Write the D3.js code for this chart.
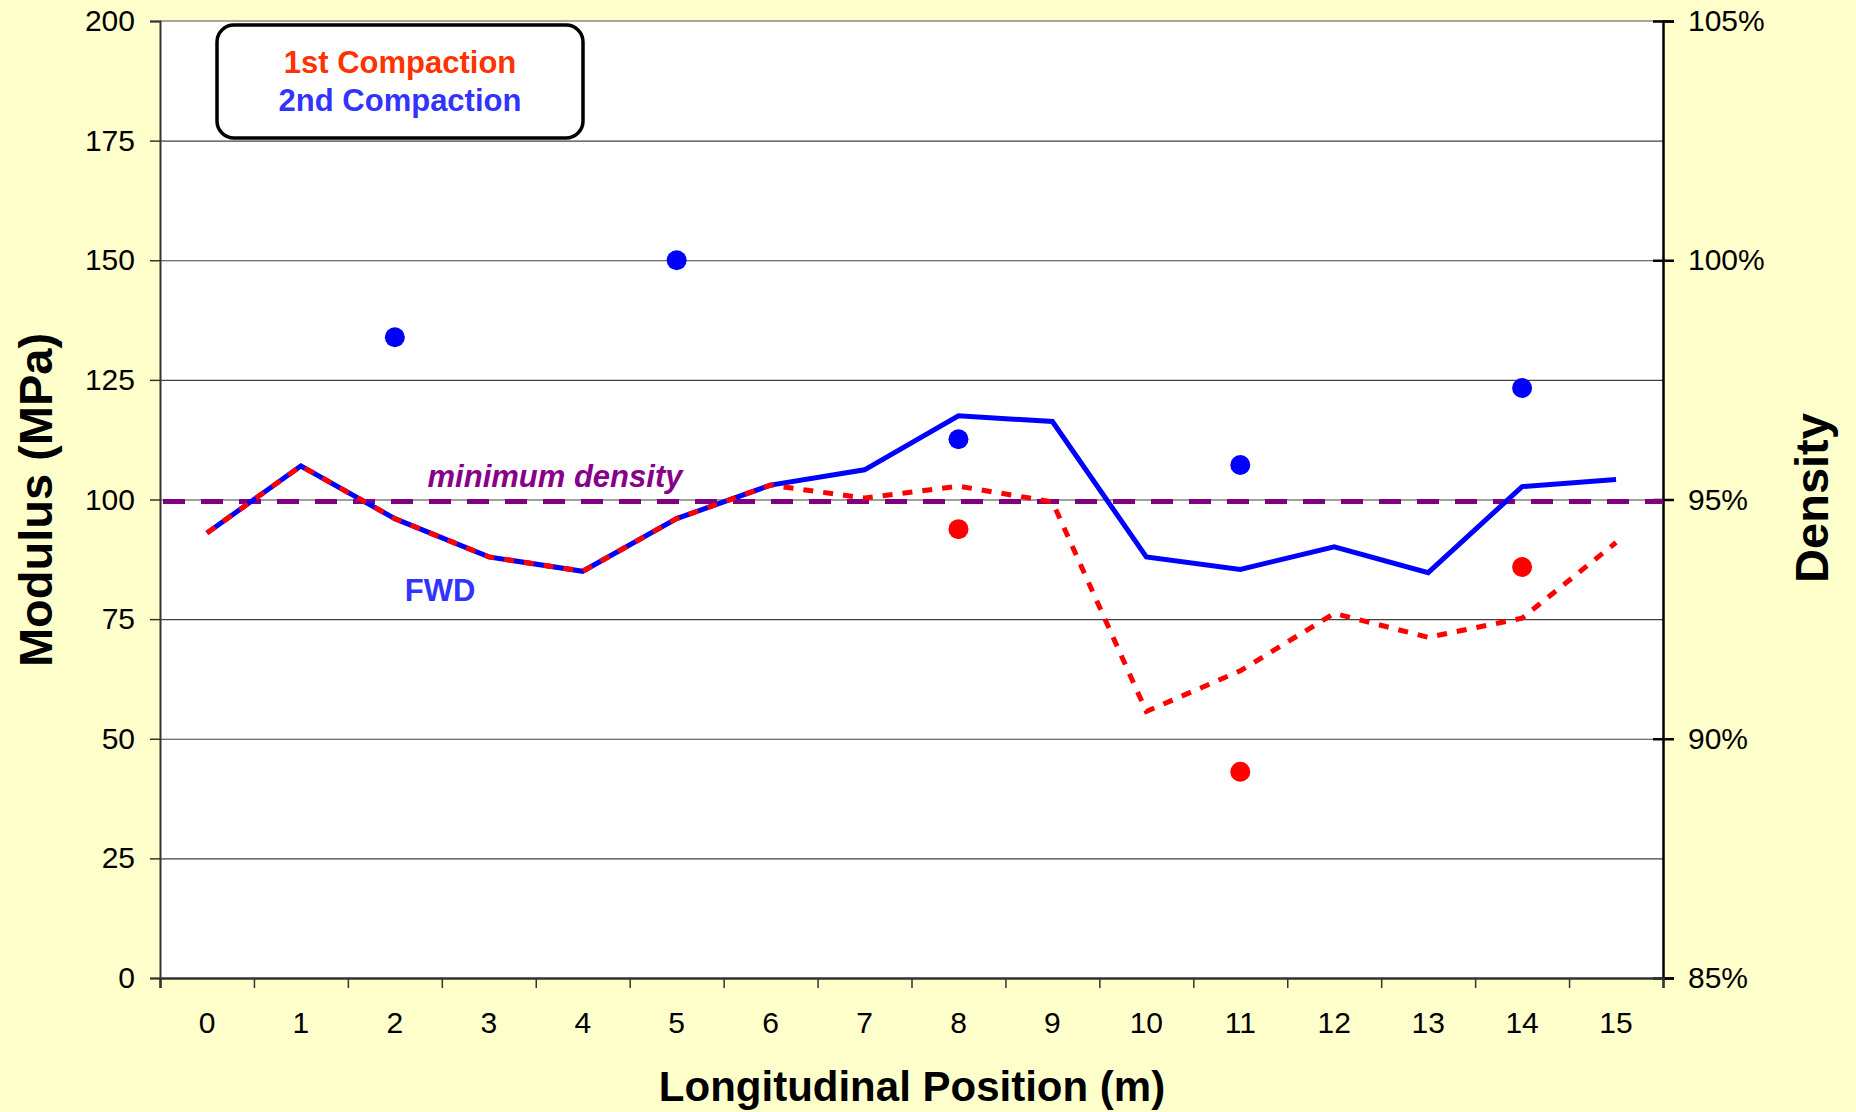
<!DOCTYPE html>
<html>
<head>
<meta charset="utf-8">
<script src="https://cdn.jsdelivr.net/npm/d3@7"></script>
<style>
  body { margin: 0; background: #FFFFCC; }
  svg { display: block; font-family: "Liberation Sans", Arial, sans-serif; }
  .axis text { font-size: 30px; fill: #000; }
</style>
</head>
<body>
<script>
// data
var positions = [0, 1, 2, 3, 4, 5, 6, 7, 8, 9, 10, 11, 12, 13, 14, 15];
var fwd1st = [93, 107, 96, 88, 85, 96, 103, 100.3, 102.8, 99.5, 55.7, 64.2, 76.2, 71.2, 75.2, 91];
var fwd2nd = [93, 107, 96, 88, 85, 96, 103, 106.2, 117.5, 116.3, 88, 85.4, 90.1, 84.7, 102.7, 104.2];
var density1stPos = [8, 11, 14];
var density1st = [0.9438, 0.8931, 0.9359];
var density2ndPos = [2, 5, 8, 11, 14];
var density2nd = [0.9839, 1.00, 0.9626, 0.9572, 0.9733];
var minDensity = 0.95;
var modulusTicks = [0, 25, 50, 75, 100, 125, 150, 175, 200];
var densityTicks = [0.85, 0.90, 0.95, 1.00, 1.05];

var margin = {top: 21, bottom: 134, left: 160, right: 193};
var width = 1856 - margin.left - margin.right;
var height = 1112 - margin.top - margin.bottom;

var svg = d3.select("body")
            .append("svg")
            .attr("width", 1856)
            .attr("height", 1112);

var g = svg.append("g")
           .attr("transform", "translate(" + margin.left + "," + margin.top + ")");

//Scales
var xScale = d3.scaleBand()
               .domain(positions)
               .range([0, width]);

var xEdge = d3.scaleLinear()
              .domain([0, positions.length])
              .range([0, width]);

var yScale = d3.scaleLinear()
               .domain([0, 200])
               .range([height, 0]);

var yRight = d3.scaleLinear()
               .domain([0.85, 1.05])
               .range([height, 0]);

function cx(d) { return xScale(d) + xScale.bandwidth() / 2; }

//Plot area
g.append("rect")
  .attr("width", width)
  .attr("height", height)
  .attr("fill", "#fff");

//Grid lines
g.append("g")
  .attr("class", "grid")
  .call(d3.axisLeft(yScale).tickValues(modulusTicks.slice(1, -1)).tickSize(-width).tickFormat(""))
  .call(function(s) {
    s.select(".domain").remove();
    s.selectAll("line").attr("stroke", "#404040").attr("stroke-width", 1.2);
  });

g.append("line")
  .attr("x1", 0).attr("x2", width)
  .attr("y1", yScale(200)).attr("y2", yScale(200))
  .attr("stroke", "#888").attr("stroke-width", 1.5);

//Left axis
g.append("g")
  .attr("class", "axis")
  .call(d3.axisLeft(yScale).tickValues(modulusTicks).tickSize(10).tickPadding(15))
  .call(function(s) {
    s.select(".domain").attr("stroke", "#333").attr("stroke-width", 2);
    s.selectAll(".tick line").attr("stroke", "#333").attr("stroke-width", 1.5);
  });

//Right axis
g.append("g")
  .attr("class", "axis")
  .attr("transform", "translate(" + width + ",0)")
  .call(d3.axisRight(yRight).tickValues(densityTicks).tickSize(11).tickPadding(14).tickFormat(d3.format(".0%")))
  .call(function(s) {
    s.select(".domain").attr("stroke", "#000").attr("stroke-width", 2.5);
    s.selectAll(".tick line").attr("x1", -10).attr("stroke", "#000").attr("stroke-width", 2.5);
    s.selectAll(".tick text").attr("text-anchor", "start");
  });

//Bottom axis: tick marks on the category edges, labels in the middle
g.append("g")
  .attr("transform", "translate(0," + height + ")")
  .call(d3.axisBottom(xEdge).ticks(positions.length).tickSize(10).tickFormat(""))
  .call(function(s) {
    s.select(".domain").attr("stroke", "#333").attr("stroke-width", 2.5);
    s.selectAll(".tick line").attr("stroke", "#333").attr("stroke-width", 1.5);
  });

g.append("g")
  .attr("class", "axis")
  .attr("transform", "translate(0," + height + ")")
  .call(d3.axisBottom(xScale).tickSize(0).tickPadding(34))
  .call(function(s) {
    s.select(".domain").remove();
  });

//Minimum density line
g.append("line")
  .attr("x1", 3).attr("x2", width)
  .attr("y1", yRight(minDensity) + 2).attr("y2", yRight(minDensity) + 2)
  .attr("stroke", "#800080")
  .attr("stroke-width", 5)
  .attr("stroke-dasharray", "22,16");

//FWD lines
var line = d3.line()
             .x(function(d, i) { return cx(positions[i]); })
             .y(function(d) { return yScale(d); });

g.append("path")
  .datum(fwd2nd)
  .attr("d", line)
  .attr("fill", "none")
  .attr("stroke", "#0000FF")
  .attr("stroke-width", 5)
  .attr("stroke-linejoin", "miter");

g.append("path")
  .datum(fwd1st)
  .attr("d", line)
  .attr("fill", "none")
  .attr("stroke", "#FF0000")
  .attr("stroke-width", 5)
  .attr("stroke-dasharray", "10,10");

//Density points
g.selectAll(".d2")
  .data(density2nd)
  .enter()
  .append("circle")
  .attr("cx", function(d, i) { return cx(density2ndPos[i]); })
  .attr("cy", function(d) { return yRight(d); })
  .attr("r", 10)
  .attr("fill", "#0000FF");

g.selectAll(".d1")
  .data(density1st)
  .enter()
  .append("circle")
  .attr("cx", function(d, i) { return cx(density1stPos[i]); })
  .attr("cy", function(d) { return yRight(d); })
  .attr("r", 10)
  .attr("fill", "#FF0000");

//Legend box
svg.append("rect")
  .attr("x", 217).attr("y", 25)
  .attr("width", 366).attr("height", 113)
  .attr("rx", 17)
  .attr("fill", "#fff")
  .attr("stroke", "#000")
  .attr("stroke-width", 3.5);

svg.append("text")
  .attr("x", 400).attr("y", 73)
  .attr("text-anchor", "middle")
  .attr("font-size", 31).attr("font-weight", "bold")
  .attr("fill", "#FF3300")
  .text("1st Compaction");

svg.append("text")
  .attr("x", 400).attr("y", 111)
  .attr("text-anchor", "middle")
  .attr("font-size", 31).attr("font-weight", "bold")
  .attr("fill", "#3333FF")
  .text("2nd Compaction");

//Labels inside the plot
svg.append("text")
  .attr("x", 555).attr("y", 487)
  .attr("text-anchor", "middle")
  .attr("font-size", 31).attr("font-weight", "bold").attr("font-style", "italic")
  .attr("fill", "#880088")
  .text("minimum density");

svg.append("text")
  .attr("x", 440).attr("y", 601)
  .attr("text-anchor", "middle")
  .attr("font-size", 31).attr("font-weight", "bold")
  .attr("fill", "#3333FF")
  .text("FWD");

//Axis titles
svg.append("text")
  .attr("transform", "translate(52,500) rotate(-90)")
  .attr("text-anchor", "middle")
  .attr("font-size", 47).attr("font-weight", "bold")
  .text("Modulus (MPa)");

svg.append("text")
  .attr("transform", "translate(1828,498) rotate(-90)")
  .attr("text-anchor", "middle")
  .attr("font-size", 47).attr("font-weight", "bold")
  .text("Density");

svg.append("text")
  .attr("x", 912).attr("y", 1101)
  .attr("text-anchor", "middle")
  .attr("font-size", 42).attr("font-weight", "bold")
  .text("Longitudinal Position (m)");
</script>
</body>
</html>
